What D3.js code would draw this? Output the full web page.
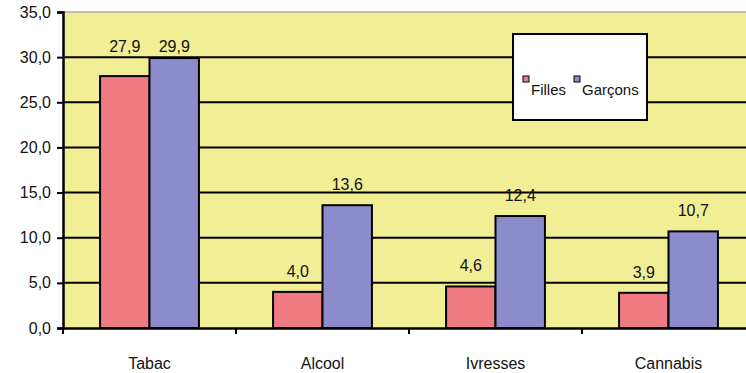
<!DOCTYPE html>
<html><head><meta charset="utf-8">
<script src="https://cdn.jsdelivr.net/npm/d3@7"></script>
<style>body{margin:0;background:#fff}svg{display:block}text{font-family:Arial,"Liberation Sans",sans-serif}</style>
</head><body><div id="c"></div>
<script>
const categories = ["Tabac","Alcool","Ivresses","Cannabis"];
const series = ["Filles","Garçons"];
const filles = [27.9,4.0,4.6,3.9];
const garcons = [29.9,13.6,12.4,10.7];
const yTicks = [0,5,10,15,20,25,30,35];
const colors = ["#F07A82","#8C8CCC"];
const FONT = "Arial,'Liberation Sans',sans-serif";

const W=746,H=373;
const m={left:63,top:12,right:-9,bottom:45};
const svg=d3.select("#c").append("svg").attr("width",W).attr("height",H);
const x=d3.scaleBand().domain(categories).range([m.left,W-m.right]);
const y=d3.scaleLinear().domain([0,35]).range([H-m.bottom,m.top]);
const xs=d3.scaleBand().domain(series).range([0,x.bandwidth()]).paddingInner(0).paddingOuter(0.75);

svg.append("rect").attr("x",m.left).attr("y",m.top).attr("width",W-m.left).attr("height",y(0)-m.top).attr("fill","#F2EE96");
svg.append("line").attr("x1",m.left).attr("x2",W).attr("y1",m.top).attr("y2",m.top).attr("stroke","#aaa").attr("stroke-width",1.5);

svg.append("g").selectAll("line").data(yTicks.filter(d=>d>0&&d<35)).join("line")
 .attr("x1",m.left).attr("x2",W).attr("y1",d=>y(d)).attr("y2",d=>y(d)).attr("stroke","#000").attr("stroke-width",2);

const data=categories.map((c,i)=>({c,vals:[filles[i],garcons[i]]}));
const g=svg.append("g").selectAll("g").data(data).join("g").attr("transform",d=>`translate(${x(d.c)},0)`);
g.selectAll("rect").data(d=>d.vals.map((v,j)=>({v,s:series[j],j}))).join("rect")
 .attr("x",d=>xs(d.s)).attr("width",xs.bandwidth()).attr("y",d=>y(d.v)).attr("height",d=>y(0)-y(d.v))
 .attr("fill",d=>colors[d.j]).attr("stroke","#000").attr("stroke-width",2);
g.selectAll("text").data(d=>{const mx=d3.max(d.vals);return d.vals.map((v,j)=>({v,s:series[j],mx}));}).join("text")
 .attr("x",d=>xs(d.s)+xs.bandwidth()/2)
 .attr("y",d=> y(d.mx) < y(25) ? y(30)-5 : y(d.v)-15)
 .attr("text-anchor","middle").attr("font-family",FONT)
 .attr("font-size",16).attr("fill","#111").text(d=>d3.format(".1f")(d.v).replace(".",","));

// y axis
const ya=svg.append("g").attr("transform",`translate(${m.left},0)`)
 .call(d3.axisLeft(y).tickValues(yTicks).tickSize(6).tickFormat(d=>d3.format(".1f")(d).replace(".",",")));
ya.select(".domain").attr("stroke","#000").attr("stroke-width",2.5);
ya.selectAll(".tick line").attr("stroke","#000").attr("stroke-width",2);
ya.selectAll(".tick text").attr("font-size",16).attr("fill","#111").attr("x",-12).attr("font-family",FONT);
// x axis
const xa=svg.append("g").attr("transform",`translate(0,${y(0)})`)
 .call(d3.axisBottom(x).tickSize(0));
xa.select(".domain").attr("stroke","#000").attr("stroke-width",2.5);
xa.selectAll(".tick text").attr("font-size",16).attr("fill","#111").attr("dy",0).attr("y",41).attr("font-family",FONT);
svg.append("g").selectAll("line").data(categories).join("line")
 .attr("x1",d=>x(d)).attr("x2",d=>x(d)).attr("y1",y(0)).attr("y2",y(0)+6).attr("stroke","#000").attr("stroke-width",2);

// legend
const lg=svg.append("g").attr("transform","translate(513,34)");
lg.append("rect").attr("width",134).attr("height",86).attr("fill","#fff").attr("stroke","#000").attr("stroke-width",2);
const items=[{s:"Filles",x:10},{s:"Garçons",x:61}];
items.forEach((it,j)=>{
 lg.append("rect").attr("x",it.x).attr("y",42).attr("width",6).attr("height",6).attr("fill",colors[j]).attr("stroke","#000").attr("stroke-width",1);
 lg.append("text").attr("x",it.x+8).attr("y",61).attr("font-size",15).attr("font-family",FONT).attr("fill","#111").text(it.s);
});
</script></body></html>
